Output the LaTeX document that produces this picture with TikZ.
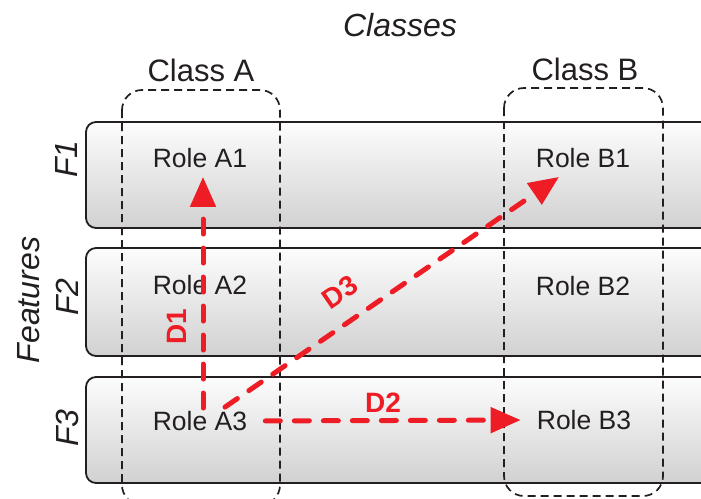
\documentclass[tikz,border=0pt]{standalone}
\usepackage{fontspec}
\setmainfont{Liberation Sans}
\usetikzlibrary{arrows.meta}
\definecolor{dred}{HTML}{EE1C24}
\definecolor{ink}{HTML}{231F20}

\begin{document}
\begin{tikzpicture}[x=1pt, y=-1pt,
		every node/.style={font=\fontsize{26.5}{30}\selectfont, text=ink, inner sep=0pt},
		featurerow/.style={draw=ink, line width=1.8pt, rounded corners=10pt, top color=gray!2, middle color=gray!14, bottom color=gray!36},
		classbox/.style={draw=ink, line width=1.7pt, dash pattern=on 8pt off 5pt, rounded corners=20pt},
		biglabel/.style={font=\fontsize{32}{36}\selectfont\itshape},
		classlabel/.style={font=\fontsize{31}{36}\selectfont},
		relation/.style={draw=dred, line width=5pt, line cap=round, dash pattern=on 15pt off 14pt, -{Triangle[length=30pt, width=25pt]}},
		rellabel/.style={text=dred, font=\fontsize{28}{32}\selectfont\bfseries}]
		\clip (0,0) rectangle (701,498);
		
		% feature rows
		\path[featurerow] (86,122) rectangle (725,228);
		\path[featurerow] (86,248) rectangle (725,356);
		\path[featurerow] (86,377) rectangle (725,483);
		
		% class boxes
		\draw[classbox] (122,90) rectangle (280,505);
		\draw[classbox] (504,88) rectangle (663,496);
		
		\node[biglabel] (classes) at (400,25) {Classes};
		\node[classlabel] (classA) at (201,70) {Class A};
		\node[classlabel] (classB) at (585,69) {Class B};
		
		\node[biglabel, rotate=90] (features) at (29,300) {Features};
		\node[biglabel, rotate=90] (f1) at (66,159) {F1};
		\node[biglabel, rotate=90] (f2) at (67,297) {F2};
		\node[biglabel, rotate=90] (f3) at (67,428) {F3};
		
		% roles
		\node (a1) at (200,158) {Role A1};
		\node (a2) at (200,285) {Role A2};
		\node (a3) at (200,421) {Role A3};
		\node (b1) at (583,158) {Role B1};
		\node (b2) at (583,286) {Role B2};
		\node (b3) at (584,420) {Role B3};
		
		% relations
		\draw[relation] ([xshift=3pt, yshift=3pt]a3.north) -- ([xshift=3pt, yshift=-9pt]a1.south);
		\node[rellabel, rotate=90] (d1) at (177,327) {D1};
		\draw[relation, shorten <=18pt, shorten >=16pt] (a3.east) -- (b3.west);
		\node[rellabel] (d2) at (383,403) {D2};
		\draw[relation] ([xshift=25pt, yshift=4pt]a3.north) -- ([xshift=-24pt, yshift=-9pt]b1.south);
		\node[rellabel, rotate=34.4] (d3) at (340,292) {D3};
	\end{tikzpicture}
\end{document}
